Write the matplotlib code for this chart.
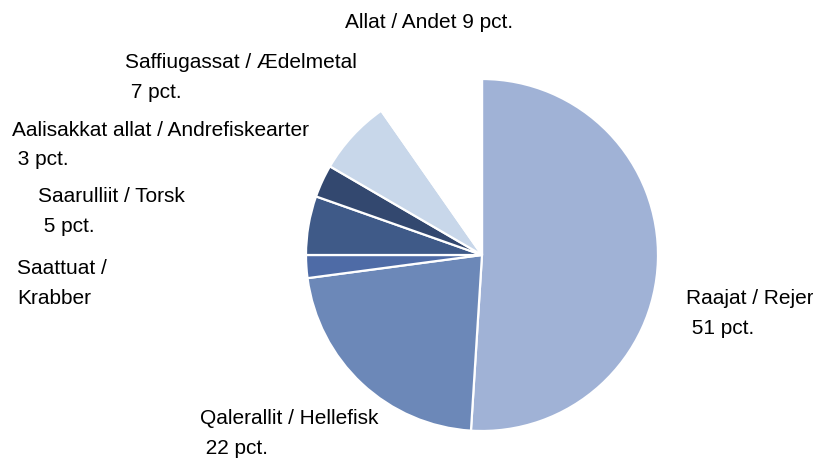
import matplotlib
matplotlib.use("Agg")
import matplotlib.pyplot as plt

names = ["Raajat / Rejer", "Qalerallit / Hellefisk", "Saattuat /\nKrabber",
         "Saarulliit / Torsk", "Aalisakkat allat / Andrefiskearter",
         "Saffiugassat / Ædelmetal", "Allat / Andet"]
# slice shares
values = [51.0, 21.9, 2.1, 5.4, 3.0, 6.9, 9.7]
# percentages as printed in the labels
pct_labels = [51, 22, 2, 5, 3, 7, 9]
colors = ["#A0B2D6", "#6C88B8", "#4E6BA6", "#3F5A88", "#33486F", "#C8D7EA", "#FFFFFF"]

W, H = 813, 458
plt.rcParams['font.family'] = ['Liberation Sans', 'DejaVu Sans']
fig = plt.figure(figsize=(W / 100, H / 100), dpi=100)

cx, cy, r = 482, 255, 176
ax = fig.add_axes([(cx - r) / W, (H - cy - r) / H, 2 * r / W, 2 * r / H])
ax.pie(values, colors=colors, startangle=90, counterclock=False,
       wedgeprops=dict(edgecolor="white", linewidth=1.6))
ax.set_xlim(-1, 1)
ax.set_ylim(-1, 1)
ax.set_aspect("equal")
ax.axis("off")

# label placement in pixels: (left x, centre y of first line)
pos = [(686, 299), (200, 418), (17, 268), (38, 197), (12, 130), (125, 62), (345, 22)]
line_gap = 30
fs = 15
for i, (n, p) in enumerate(zip(names, pct_labels)):
    x, y = pos[i]
    if i == 6:
        lines = [f"{n} {p} pct."]
    elif i == 2:
        lines = n.split("\n")
    else:
        lines = [n, f" {p} pct."]
    for k, line in enumerate(lines):
        fig.text(x / W, 1 - (y + k * line_gap) / H, line, ha="left", va="center",
                 fontsize=fs)

fig.savefig("out.png", dpi=100)
